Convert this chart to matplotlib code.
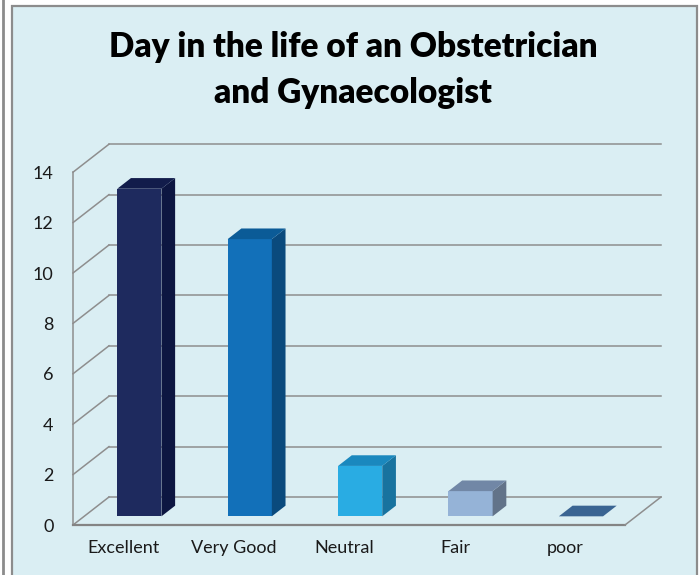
import matplotlib.pyplot as plt
from matplotlib.patches import Polygon, Rectangle
from matplotlib.lines import Line2D

# === Data ===
categories = ["Excellent", "Very Good", "Neutral", "Fair", "poor"]
values = [13, 11, 2, 1, 0]
y_ticks = [0, 2, 4, 6, 8, 10, 12, 14]
title_lines = ["Day in the life of an Obstetrician", "and Gynaecologist"]

front_colors = ["#1E2A5E", "#1270B9", "#29ACE3", "#95B3D7", "#3B6695"]
side_colors = ["#0D1641", "#0A4A7D", "#18739F", "#627389", "#3A6492"]
top_colors = ["#121C4B", "#0B5B97", "#1A88BE", "#7187A6", "#3A6492"]

bg = "#DAEEF3"
grid_col = "#8E8E8E"

plt.rcParams['font.family'] = ['Lato', 'DejaVu Sans']

W, H = 700, 575
fig = plt.figure(figsize=(7, 5.75), dpi=100)
fig.patch.set_facecolor("white")

# === Frame ===
fig.patches.append(Rectangle((12 / W, -0.02), (697 - 12) / W, 1.02 - 6 / H,
                             transform=fig.transFigure, facecolor=bg,
                             edgecolor="#8C8C8C", linewidth=1.6, zorder=-5))
fig.lines.append(Line2D([2.5 / W, 2.5 / W], [0, 1], transform=fig.transFigure,
                        color="#8C8C8C", linewidth=2, zorder=-5))

# === Axes: 1 category = 110.4 px, 1 unit = 25.2 px ===
cat_px = 110.4
val_px = 25.2
ax_l, ax_r, ax_b, ax_t = 73, 673, 525, 140
ax = fig.add_axes([ax_l / W, (H - ax_b) / H, (ax_r - ax_l) / W, (ax_b - ax_t) / H])
ax.set_zorder(1)
ax.set_xlim(0, (ax_r - ax_l) / cat_px)
ax.set_ylim(0, (ax_b - ax_t) / val_px)
ax.patch.set_alpha(0)
for s in ax.spines.values():
    s.set_visible(False)

# depth of the floor in data units
Dx = 36 / cat_px
Dy = 28 / val_px
n = len(categories)

# === Walls / gridlines ===
for v in y_ticks:
    ax.plot([0, Dx], [v, v + Dy], color=grid_col, lw=1.1, zorder=1, clip_on=False)
    ax.plot([Dx, n + Dx], [v + Dy, v + Dy], color=grid_col, lw=1.1, zorder=1, clip_on=False)
ax.plot([0, 0], [0, max(y_ticks)], color=grid_col, lw=1.1, zorder=1, clip_on=False)
ax.plot([0, n], [0, 0], color="#848484", lw=1.6, zorder=1, clip_on=False)
ax.plot([n, n + Dx], [0, Dy], color=grid_col, lw=1.1, zorder=1, clip_on=False)

# === 3D bars ===
z0, z1 = 0.31, 0.69
bw = 0.4
for i, (v, fc, sc, tc) in enumerate(zip(values, front_colors, side_colors, top_colors)):
    x0 = i + 0.5 - bw / 2 + z0 * Dx
    y0 = z0 * Dy
    ddx = (z1 - z0) * Dx
    ddy = (z1 - z0) * Dy
    ax.bar(x0, v, width=bw, bottom=y0, align="edge", color=fc, zorder=3)
    side = [(x0 + bw, y0), (x0 + bw + ddx, y0 + ddy),
            (x0 + bw + ddx, y0 + v + ddy), (x0 + bw, y0 + v)]
    top = [(x0, y0 + v), (x0 + bw, y0 + v),
           (x0 + bw + ddx, y0 + v + ddy), (x0 + ddx, y0 + v + ddy)]
    ax.add_patch(Polygon(side, closed=True, facecolor=sc, edgecolor="none", zorder=3))
    ax.add_patch(Polygon(top, closed=True, facecolor=tc, edgecolor="none", zorder=3))

# === Ticks ===
ax.set_yticks(y_ticks)
ax.set_yticklabels([str(t) for t in y_ticks], fontsize=13, color="#1A1A1A")
ax.set_xticks([i + 0.5 - 0.04 for i in range(n)])
ax.set_xticklabels(categories, fontsize=13, color="#1A1A1A")
ax.tick_params(axis="y", length=0, pad=14)
ax.tick_params(axis="x", length=0, pad=11)

# === Title ===
fig.text(353 / W, 1 - 47 / H, title_lines[0], ha="center", va="center",
         fontsize=24, fontweight="heavy", color="black")
fig.text(353 / W, 1 - 93 / H, title_lines[1], ha="center", va="center",
         fontsize=24, fontweight="heavy", color="black")

plt.savefig("out.png", dpi=100, facecolor=fig.get_facecolor())
